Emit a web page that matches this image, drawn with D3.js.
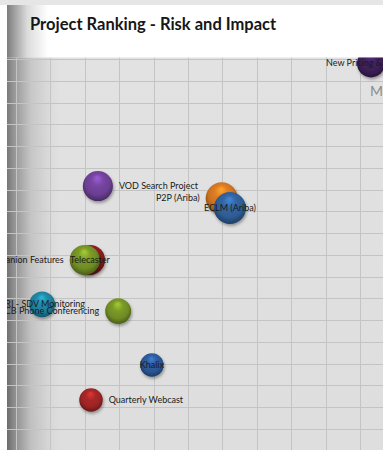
<!DOCTYPE html>
<html>
<head>
<meta charset="utf-8">
<script src="https://cdn.jsdelivr.net/npm/d3@7"></script>
<style>
  html, body { margin: 0; padding: 0; background: #ffffff; }
  svg { display: block; }
</style>
</head>
<body>
<script>
// ---- Data ----
const names   = ["New Pricing & Bundles", "VOD Search Project", "P2P (Ariba)", "ECLM (Ariba)",
                 "Telecaster", "Companion Features", "CRI - SDV Monitoring", "GCB Phone Conferencing",
                 "Khalix", "Quarterly Webcast"];
const risk    = [10.32, 2.38, 5.98, 6.22, 2.15, 2.0, 0.76, 2.97, 3.95, 2.18];
const impact  = [17.8, 12.16, 11.6, 11.15, 8.76, 8.76, 6.72, 6.41, 3.93, 2.32];
const sizes   = [20, 23, 26, 26, 23, 23, 17, 17, 14, 14];
const colors  = ["#3b1f56", "#6b3f92", "#c9701f", "#2e5c93", "#8a1d1f", "#6f8b24",
                 "#1e7d97", "#6f8b24", "#2b5592", "#9a2424"];
const labelPos = ["center", "right", "left", "center", "center", "left", "center", "left", "center", "right"];
const xTicks  = d3.range(0, 12);
const yTicks  = d3.range(0, 19);
const title   = "Project Ranking  - Risk and Impact";

// ---- Layout ----
const W = 383, H = 450;
const chart = {x0: 7, y0: 5, x1: 383, y1: 450};
const plot  = {x0: 7, y0: 57.5, x1: 383, y1: 450};

const svg = d3.select("body").append("svg").attr("width", W).attr("height", H);
const defs = svg.append("defs");

// background gradients
const gTitle = defs.append("linearGradient").attr("id", "gTitle")
  .attr("gradientUnits", "userSpaceOnUse").attr("x1", 7).attr("x2", 48).attr("y1", 0).attr("y2", 0);
[[0, "#7c7c7c"], [0.15, "#9a9a9a"], [0.5, "#dcdcdc"], [1, "#ffffff"]].forEach(s =>
  gTitle.append("stop").attr("offset", s[0]).attr("stop-color", s[1]));

const gPlot = defs.append("linearGradient").attr("id", "gPlot")
  .attr("gradientUnits", "userSpaceOnUse").attr("x1", 7).attr("x2", 60).attr("y1", 0).attr("y2", 0);
[[0, "#6a6a6a"], [0.12, "#888888"], [0.45, "#c0c0c0"], [0.8, "#d7d7d7"], [1, "#dedede"]].forEach(s =>
  gPlot.append("stop").attr("offset", s[0]).attr("stop-color", s[1]));

const gPlotV = defs.append("linearGradient").attr("id", "gPlotV")
  .attr("x1", 0).attr("x2", 0).attr("y1", 0).attr("y2", 1);
[[0, "#ffffff", 0.12], [1, "#ffffff", 0]].forEach(s =>
  gPlotV.append("stop").attr("offset", s[0]).attr("stop-color", s[1]).attr("stop-opacity", s[2]));

defs.append("clipPath").attr("id", "clipChart").append("rect")
  .attr("x", chart.x0).attr("y", chart.y0).attr("width", chart.x1 - chart.x0).attr("height", chart.y1 - chart.y0);
defs.append("clipPath").attr("id", "clipPlot").append("rect")
  .attr("x", plot.x0).attr("y", plot.y0).attr("width", plot.x1 - plot.x0).attr("height", plot.y1 - plot.y0);

const shadow = defs.append("filter").attr("id", "shadow")
  .attr("x", "-50%").attr("y", "-50%").attr("width", "200%").attr("height", "200%");
shadow.append("feDropShadow").attr("dx", 1).attr("dy", 2).attr("stdDeviation", 1.6)
  .attr("flood-color", "#000").attr("flood-opacity", 0.35);

// top strip
svg.append("rect").attr("x", 0).attr("y", 0).attr("width", W).attr("height", 5).attr("fill", "#e6e6e6");
// title area
svg.append("rect").attr("x", chart.x0).attr("y", chart.y0).attr("width", chart.x1 - chart.x0)
  .attr("height", plot.y0 - chart.y0).attr("fill", "url(#gTitle)");
// plot area
svg.append("rect").attr("x", plot.x0).attr("y", plot.y0).attr("width", plot.x1 - plot.x0)
  .attr("height", plot.y1 - plot.y0).attr("fill", "url(#gPlot)");
svg.append("rect").attr("x", plot.x0).attr("y", plot.y0).attr("width", plot.x1 - plot.x0)
  .attr("height", plot.y1 - plot.y0).attr("fill", "url(#gPlotV)");

// ---- Scales ----
const x = d3.scaleLinear().domain([0, 11]).range([16, 394.4]);
const y = d3.scaleLinear().domain([0, 18]).range([450.5, 59]);
const r = d3.scaleSqrt().domain([0, 26]).range([0, 16]);

// grid
const grid = svg.append("g").attr("clip-path", "url(#clipPlot)");
grid.selectAll("line.v").data(xTicks).join("line").attr("class", "v")
  .attr("x1", d => Math.round(x(d)) + 0.5).attr("x2", d => Math.round(x(d)) + 0.5)
  .attr("y1", plot.y0).attr("y2", plot.y1)
  .attr("stroke", "#c4c4c4").attr("stroke-width", 1);
grid.selectAll("line.h").data(yTicks).join("line").attr("class", "h")
  .attr("y1", d => Math.round(y(d)) + 0.5).attr("y2", d => Math.round(y(d)) + 0.5)
  .attr("x1", plot.x0).attr("x2", plot.x1)
  .attr("stroke", "#c4c4c4").attr("stroke-width", 1);

// title
svg.append("text").attr("x", 30).attr("y", 30)
  .attr("font-family", "Lato, 'Open Sans', sans-serif").attr("font-weight", "bold")
  .attr("font-size", 16.5).attr("fill", "#161616").text(title);

// ---- Bubbles ----
const data = names.map((n, i) => ({name: n, x: risk[i], y: impact[i], s: sizes[i], c: colors[i], pos: labelPos[i], i}));

data.forEach(d => {
  const base = d3.color(d.c);
  const g = defs.append("radialGradient").attr("id", "sph" + d.i)
    .attr("cx", "50%").attr("cy", "45%").attr("r", "58%").attr("fx", "48%").attr("fy", "22%");
  [[0, base.brighter(1.1)], [0.35, base.brighter(0.3)], [0.7, base], [0.9, base.darker(0.8)], [1, base.darker(1.3)]]
    .forEach(s => g.append("stop").attr("offset", s[0]).attr("stop-color", s[1].formatHex()));
});

const bub = svg.append("g").attr("clip-path", "url(#clipPlot)");
bub.selectAll("circle").data(data).join("circle")
  .attr("cx", d => x(d.x)).attr("cy", d => y(d.y)).attr("r", d => r(d.s))
  .attr("fill", d => `url(#sph${d.i})`).attr("filter", "url(#shadow)");

// labels
const lab = svg.append("g").attr("clip-path", "url(#clipChart)");
lab.selectAll("text").data(data).join("text")
  .attr("x", d => d.pos === "right" ? x(d.x) + r(d.s) + 6 : d.pos === "left" ? x(d.x) - r(d.s) - 6 : x(d.x))
  .attr("y", d => y(d.y) + 3)
  .attr("text-anchor", d => d.pos === "right" ? "start" : d.pos === "left" ? "end" : "middle")
  .attr("font-family", "Lato, 'Open Sans', sans-serif").attr("font-size", 9)
  .attr("fill", "#1a1a1a").text(d => d.name);

// partially visible quadrant label at right edge
svg.append("text").attr("x", 370).attr("y", 96)
  .attr("font-family", "Lato, 'Open Sans', sans-serif").attr("font-size", 14)
  .attr("fill", "#8c8c8c").text("M");
</script>
</body>
</html>
